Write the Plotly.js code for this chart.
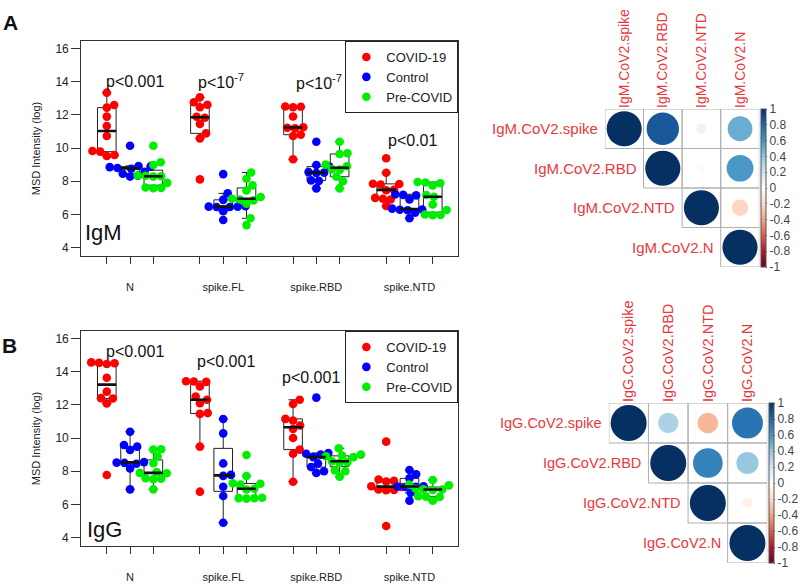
<!DOCTYPE html>
<html><head><meta charset="utf-8">
<script src="https://cdn.plot.ly/plotly-3.0.1.min.js"></script>
<style>html,body{margin:0;padding:0;background:#fff}#chart{width:800px;height:587px}</style>
</head><body><div id="chart"></div>
<script>
// ---------- data ----------
const antigens = ['N', 'spike.FL', 'spike.RBD', 'spike.NTD'];
const groupNames = ['COVID-19', 'Control', 'Pre-COVID'];
const groupColors = ['#ff0000', '#0000ff', '#00ee00'];

// IgM (panel A): one list per antigen [N, spike.FL, spike.RBD, spike.NTD]
const igmCovid = [
  [13.33, 12.59, 12.43, 11.89, 11.32, 10.72, 9.82, 9.78, 9.58, 9.52],
  [13.05, 12.75, 12.6, 12.45, 11.88, 11.82, 11.45, 10.88, 10.58, 8.11],
  [12.5, 12.48, 12.45, 11.9, 11.25, 11.22, 11.18, 10.8, 10.72, 9.32],
  [9.38, 8.51, 7.85, 7.83, 7.80, 7.48, 7.46, 7.0, 6.95, 6.90, 6.51]
];
const igmControl = [
  [10.14, 8.92, 8.88, 8.85, 8.80, 8.75, 8.57, 8.45, 8.33, 8.28],
  [8.43, 7.27, 6.88, 6.50, 6.47, 6.47, 6.45, 6.45, 6.2, 5.67],
  [10.38, 8.98, 8.88, 8.55, 8.52, 8.50, 8.05, 8.02, 7.57],
  [7.22, 7.18, 7.15, 6.9, 6.35, 6.3, 6.28, 6.25, 6.1, 5.77]
];
const igmPre = [
  [10.14, 9.14, 8.98, 8.35, 8.33, 8.30, 8.28, 7.90, 7.62, 7.60, 7.58],
  [8.53, 8.15, 7.75, 7.45, 7.05, 6.95, 6.90, 6.85, 6.65, 5.77, 5.36],
  [10.38, 9.68, 9.64, 9.0, 8.90, 8.72, 8.70, 8.27, 8.0, 7.57],
  [7.95, 7.92, 7.88, 7.75, 7.17, 7.07, 6.6, 6.27, 6.0, 5.97, 5.95]
];
// IgG (panel B)
const iggCovid = [
  [14.55, 14.52, 14.5, 14.45, 13.63, 12.79, 12.4, 12.38, 12.08, 7.77],
  [13.42, 13.40, 13.38, 13.1, 12.5, 12.3, 12.1, 11.5, 11.45, 9.48, 6.77],
  [12.3, 12.05, 11.15, 11.05, 10.75, 10.55, 10.0, 9.3, 9.05, 7.37],
  [9.78, 7.5, 7.42, 7.38, 7.1, 7.05, 6.9, 6.88, 6.86, 4.7]
];
const iggControl = [
  [10.38, 9.58, 9.48, 9.28, 8.55, 8.52, 8.50, 8.45, 8.17, 6.91],
  [11.14, 10.28, 8.47, 7.78, 7.72, 7.07, 6.51, 4.9],
  [12.43, 9.1, 9.05, 9.0, 8.85, 8.47, 8.25, 8.0, 7.9],
  [8.07, 7.82, 7.57, 7.1, 7.08, 7.06, 7.05, 6.7, 6.23]
];
const iggPre = [
  [9.32, 9.30, 8.88, 8.48, 7.95, 7.90, 7.88, 7.58, 7.55, 7.52, 6.91],
  [8.98, 7.71, 7.28, 7.25, 7.2, 6.95, 6.9, 6.4, 6.38, 6.37, 6.35],
  [9.38, 9.0, 8.95, 8.9, 8.85, 8.6, 8.55, 8.5, 8.05, 8.0, 7.67],
  [7.47, 7.2, 7.15, 6.95, 6.92, 6.9, 6.88, 6.5, 6.47, 6.45, 6.23]
];
const igmPvals = ['p<0.001', 'p<10<sup>-7</sup>', 'p<10<sup>-7</sup>', 'p<0.01'];
const iggPvals = ['p<0.001', 'p<0.001', 'p<0.001'];

// correlation matrices (upper triangle)
const igmLabels = ['IgM.CoV2.spike', 'IgM.CoV2.RBD', 'IgM.CoV2.NTD', 'IgM.CoV2.N'];
const igmCorr = [
  [1, 0.85, 0.08, 0.50],
  [null, 1, 0.04, 0.58],
  [null, null, 1, -0.22],
  [null, null, null, 1]
];
const iggLabels = ['IgG.CoV2.spike', 'IgG.CoV2.RBD', 'IgG.CoV2.NTD', 'IgG.CoV2.N'];
const iggCorr = [
  [1, 0.32, -0.33, 0.74],
  [null, 1, 0.68, 0.38],
  [null, null, 1, -0.08],
  [null, null, null, 1]
];
const cbTicks = [-1, -0.8, -0.6, -0.4, -0.2, 0, 0.2, 0.4, 0.6, 0.8, 1];
const cbTickText = ['-1', '-0.8', '-0.6', '-0.4', '-0.2', '0', '0.2', '0.4', '0.6', '0.8', '1'];

// ---------- helpers ----------
const FONT = 'Liberation Sans, Arial, sans-serif';
const W = 800, H = 587;
const rdbu = [[0, '#67001F'], [0.1, '#B2182B'], [0.2, '#D6604D'], [0.3, '#F4A582'], [0.4, '#FDDBC7'],
  [0.5, '#FFFFFF'], [0.6, '#D1E5F0'], [0.7, '#92C5DE'], [0.8, '#4393C3'], [0.9, '#2166AC'], [1, '#053061']];

const xRange = [-0.1, 16.1], yRange = [3.5, 16.44];
const leftDom = [82 / W, 463 / W];
const topDom = [1 - 256 / H, 1 - 41 / H];
const botDom = [1 - 546 / H, 1 - 331 / H];
const pxX = (leftDom[1] - leftDom[0]) * W / (xRange[1] - xRange[0]);
const pxY = (topDom[1] - topDom[0]) * H / (yRange[1] - yRange[0]);
const DOT = 7.9;

function swarm(vals) {
  const idx = vals.map((v, i) => i).sort((a, b) => vals[a] - vals[b]);
  const placed = [], off = new Array(vals.length);
  for (const i of idx) {
    const y = vals[i] * pxY;
    const near = placed.filter(p => Math.abs(p.y - y) < DOT);
    const cands = [0];
    near.forEach(p => cands.push(p.x + Math.sqrt(DOT * DOT - (p.y - y) ** 2)));
    near.forEach(p => cands.push(p.x - Math.sqrt(DOT * DOT - (p.y - y) ** 2)));
    let best = null;
    for (const c of cands) {
      const ok = near.every(p => (c - p.x) ** 2 + (p.y - y) ** 2 >= DOT * DOT - 1e-6);
      if (ok && (best === null || Math.abs(c) < Math.abs(best) - 1e-9)) best = c;
    }
    off[i] = best; placed.push({ x: best, y: y });
  }
  return off.map(o => o / pxX);
}
function median(a) {
  const s = a.slice().sort((p, q) => p - q), n = s.length;
  return n % 2 ? s[(n - 1) / 2] : (s[n / 2 - 1] + s[n / 2]) / 2;
}

const traces = [];
function addPanel(sets, xa, ya, legendId) {
  const medX = [], medY = [];
  sets.forEach((set, g) => {
    const px = [], py = [], bx = [], by = [];
    set.forEach((vals, c) => {
      const pos = 4 * c + g + 1;
      const offs = swarm(vals);
      vals.forEach((v, k) => { px.push(pos + offs[k]); py.push(v); bx.push(pos); by.push(v); });
      const m = median(vals);
      medX.push(pos - 0.4, pos + 0.4, null); medY.push(m, m, null);
    });
    traces.push({
      type: 'box', x: bx, y: by, xaxis: xa, yaxis: ya, width: 0.8, whiskerwidth: 0.5,
      quartilemethod: 'inclusive', boxpoints: 'outliers', marker: { opacity: 0, size: 1 },
      line: { color: '#222', width: 1 }, fillcolor: 'rgba(0,0,0,0)', showlegend: false, hoverinfo: 'skip'
    });
    traces.push({
      type: 'scatter', mode: 'markers', x: px, y: py, xaxis: xa, yaxis: ya, name: groupNames[g],
      legend: legendId, marker: { color: groupColors[g], size: 8.6, opacity: 1 }, cliponaxis: false
    });
  });
  traces.push({
    type: 'scatter', mode: 'lines', x: medX, y: medY, xaxis: xa, yaxis: ya,
    line: { color: '#111', width: 2.6 }, showlegend: false, hoverinfo: 'skip'
  });
}
addPanel([igmCovid, igmControl, igmPre], 'x', 'y', 'legend');
addPanel([iggCovid, iggControl, iggPre], 'x2', 'y2', 'legend2');

const shapes = [], annotations = [];
function addCorr(mat, labels, xa, ya, xDomPx, yDomPx, rowFont) {
  const cell = (xDomPx[1] - xDomPx[0]) / labels.length;
  const cx = [], cy = [], cs = [], cc = [];
  mat.forEach((row, i) => row.forEach((r, j) => {
    if (r === null) return;
    cx.push(j); cy.push(i); cc.push(r); cs.push(0.9 * cell * Math.sqrt(Math.abs(r)));
    shapes.push({ type: 'rect', xref: xa, yref: ya, x0: j - 0.5, x1: j + 0.5, y0: i - 0.5, y1: i + 0.5,
      line: { color: '#b0b0b0', width: 1 }, fillcolor: 'rgba(0,0,0,0)', layer: 'above' });
  }));
  labels.forEach((lab, i) => annotations.push({
    xref: xa, yref: ya, x: i - 0.5, y: i, text: lab, showarrow: false, xanchor: 'right', yanchor: 'middle',
    xshift: -5, font: { family: FONT, size: rowFont, color: '#e8383d' }
  }));
  const yMid = 1 - (yDomPx[0] + yDomPx[1]) / 2 / H;
  traces.push({
    type: 'scatter', mode: 'markers', x: cx, y: cy, xaxis: xa, yaxis: ya, showlegend: false,
    marker: { size: cs, sizemode: 'diameter', opacity: 1, color: cc, colorscale: rdbu, cmin: -1, cmax: 1,
      line: { width: 0 }, showscale: true,
      colorbar: { x: (xDomPx[1] + 2) / W, xanchor: 'left', y: yMid, yanchor: 'middle',
        len: (yDomPx[1] - yDomPx[0]) / H, lenmode: 'fraction', thickness: 5, thicknessmode: 'pixels',
        xpad: 0, ypad: 0, outlinewidth: 1, outlinecolor: '#555', tickvals: cbTicks, ticktext: cbTickText,
        ticks: 'outside', ticklen: 1, tickcolor: '#555', tickfont: { family: FONT, size: 12, color: '#444' } } }
  });
}
const c1x = [611, 767], c1y = [109, 267], c2x = [615, 775], c2y = [403, 563];
addCorr(igmCorr, igmLabels, 'x3', 'y3', c1x, c1y, 15);
addCorr(iggCorr, iggLabels, 'x4', 'y4', c2x, c2y, 14.5);

// p-values and panel text
const pPosTop = [[2.2, 14.03], [5.9, 14.03], [10.1, 13.97], [14.14, 10.48]];
igmPvals.forEach((t, k) => annotations.push({ xref: 'x', yref: 'y', x: pPosTop[k][0], y: pPosTop[k][1], text: t,
  showarrow: false, font: { family: FONT, size: 16, color: '#111' } }));
const pPosBot = [[2.2, 15.18], [6.1, 14.63], [9.76, 13.67]];
iggPvals.forEach((t, k) => annotations.push({ xref: 'x2', yref: 'y2', x: pPosBot[k][0], y: pPosBot[k][1], text: t,
  showarrow: false, font: { family: FONT, size: 16, color: '#111' } }));
annotations.push({ xref: 'paper', yref: 'paper', x: 84 / W, y: 1 - 233 / H, xanchor: 'left', yanchor: 'middle',
  text: 'IgM', showarrow: false, font: { family: FONT, size: 22, color: '#111' } });
annotations.push({ xref: 'paper', yref: 'paper', x: 86 / W, y: 1 - 529 / H, xanchor: 'left', yanchor: 'middle',
  text: 'IgG', showarrow: false, font: { family: FONT, size: 22, color: '#111' } });
annotations.push({ xref: 'paper', yref: 'paper', x: 1 / W, y: 1 - 22 / H, xanchor: 'left', yanchor: 'middle',
  text: '<b>A</b>', showarrow: false, font: { family: FONT, size: 21, color: '#111' } });
annotations.push({ xref: 'paper', yref: 'paper', x: 0 / W, y: 1 - 345 / H, xanchor: 'left', yanchor: 'middle',
  text: '<b>B</b>', showarrow: false, font: { family: FONT, size: 21, color: '#111' } });

// group tick positions (minor) and antigen label positions (major)
const allPos = [], labelPos = [];
antigens.forEach((a, c) => { [0, 1, 2].forEach(g => allPos.push(4 * c + g + 1)); labelPos.push(4 * c + 2); });
function xAx(dom, anchor) {
  return { domain: dom, anchor: anchor, range: xRange, tickvals: labelPos, ticktext: antigens, ticks: 'outside',
    ticklen: 7, tickcolor: '#333', showline: true, mirror: true, linecolor: '#333', linewidth: 1, tickangle: 0,
    minor: { tickvals: allPos, ticks: 'outside', ticklen: 7, tickcolor: '#333', showgrid: false },
    showgrid: false, zeroline: false, tickfont: { family: FONT, size: 11, color: '#222' }, ticklabelstandoff: 14 };
}
function yAx(dom, anchor) {
  return { domain: dom, anchor: anchor, range: yRange, tickvals: [4, 6, 8, 10, 12, 14, 16], ticks: 'outside',
    ticklen: 9, tickcolor: '#333', showline: true, mirror: true, linecolor: '#333', linewidth: 1,
    showgrid: false, zeroline: false, tickfont: { family: FONT, size: 12, color: '#222' },
    title: { text: 'MSD Intensity (log)', font: { family: FONT, size: 11, color: '#222' }, standoff: 12 } };
}
function cxAx(dom, anchor, labels, size) {
  return { domain: dom, anchor: anchor, range: [-0.5, 3.5], side: 'top', tickvals: [0, 1, 2, 3], ticktext: labels,
    tickangle: -90, ticks: '', showline: false, showgrid: false, zeroline: false,
    tickfont: { family: FONT, size: size, color: '#e8383d' } };
}
function cyAx(dom, anchor) {
  return { domain: dom, anchor: anchor, range: [3.5, -0.5], showticklabels: false, ticks: '', showline: false,
    showgrid: false, zeroline: false };
}
const legendBase = { xanchor: 'right', yanchor: 'top', bgcolor: '#fff', bordercolor: '#222', borderwidth: 1,
  font: { family: FONT, size: 13, color: '#222' }, itemwidth: 30 };

const layout = {
  width: W, height: H, margin: { l: 0, r: 0, t: 0, b: 0 }, paper_bgcolor: '#fff', plot_bgcolor: 'rgba(0,0,0,0)',
  showlegend: true,
  xaxis: xAx(leftDom, 'y'), yaxis: yAx(topDom, 'x'),
  xaxis2: xAx(leftDom, 'y2'), yaxis2: yAx(botDom, 'x2'),
  xaxis3: cxAx([c1x[0] / W, c1x[1] / W], 'y3', igmLabels, 14),
  yaxis3: cyAx([1 - c1y[1] / H, 1 - c1y[0] / H], 'x3'),
  xaxis4: cxAx([c2x[0] / W, c2x[1] / W], 'y4', iggLabels, 14.5),
  yaxis4: cyAx([1 - c2y[1] / H, 1 - c2y[0] / H], 'x4'),
  legend: Object.assign({ x: leftDom[1], y: topDom[1] }, legendBase),
  legend2: Object.assign({ x: leftDom[1], y: botDom[1] }, legendBase),
  shapes: shapes, annotations: annotations
};
Plotly.newPlot('chart', traces, layout, { staticPlot: true });
</script></body></html>
